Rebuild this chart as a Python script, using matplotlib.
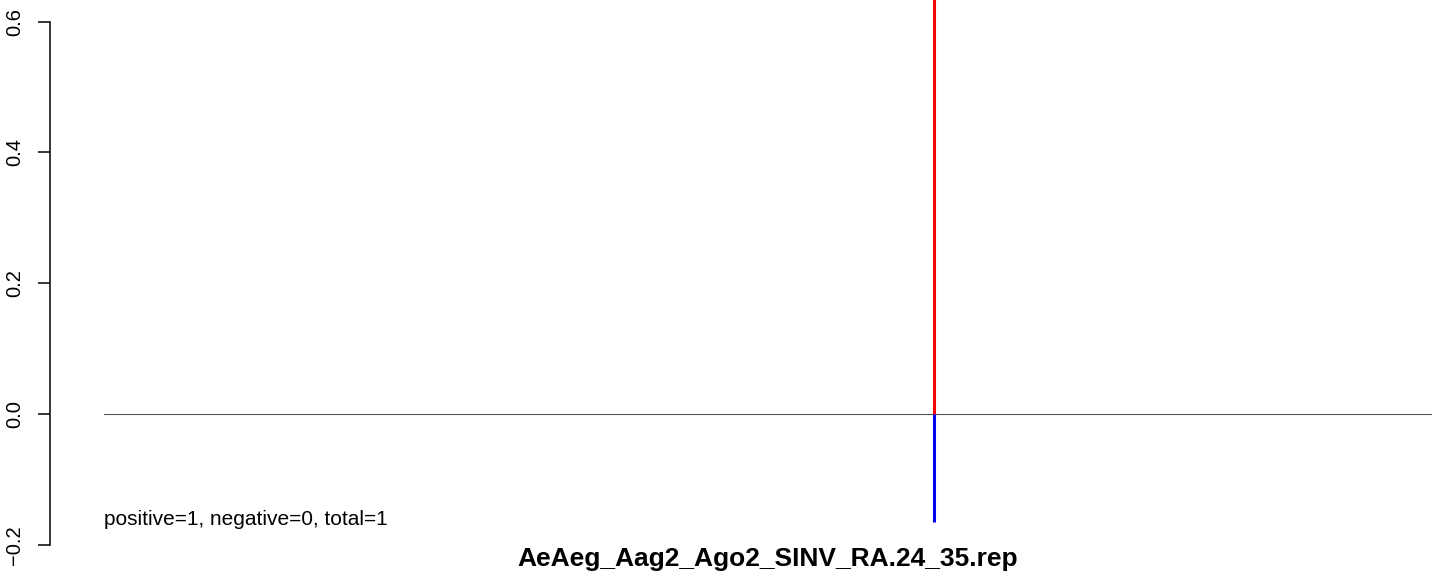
import matplotlib
matplotlib.use('Agg')
import matplotlib.pyplot as plt

plt.rcParams['font.family'] = ['Liberation Sans', 'DejaVu Sans']

# read coverage around the single mapped site
positions = [62.5]
pos_height = [1.0]
neg_depth = [-0.165]
n_pos, n_neg = 1, 0
title = 'AeAeg_Aag2_Ago2_SINV_RA.24_35.rep'
yticks = [-0.2, 0.0, 0.2, 0.4, 0.6]
ylabels = ['\u22120.2', '0.0', '0.2', '0.4', '0.6']

W, H = 1433, 574
fig = plt.figure(figsize=(W / 100, H / 100), dpi=100)
ax = fig.add_axes([104 / W, (H - 545) / H, 1328 / W, 545 / H])
ax.set_xlim(0, 100)
ax.set_ylim(-0.2, 0.633)

ax.axhline(0, color='#555555', lw=0.8, zorder=1)
ax.vlines(positions, 0, pos_height, color='#ff0000', lw=2.2, zorder=2)
ax.vlines(positions, neg_depth, 0, color='#0000ff', lw=2.2, zorder=2)

for s in ['top', 'right', 'bottom']:
    ax.spines[s].set_visible(False)
ax.spines['left'].set_position(('outward', 54 * 0.72))
ax.spines['left'].set_bounds(-0.2, 0.6)
ax.spines['left'].set_linewidth(1.1)
ax.set_xticks([])
ax.set_yticks(yticks)
ax.set_yticklabels(ylabels)
ax.tick_params(axis='y', length=8.5, width=1.1, pad=10, labelsize=14.5,
               labelrotation=90)
for lbl in ax.get_yticklabels():
    lbl.set_va('center')

fig.text(104 / W, 1 - 525 / H, f'positive={n_pos}, negative={n_neg}, total={n_pos + n_neg}',
         fontsize=15, va='baseline', ha='left')
fig.text(768 / W, 1 - 566 / H, title, fontsize=19, fontweight='bold',
         ha='center', va='baseline')

fig.savefig('out.png', dpi=100)
